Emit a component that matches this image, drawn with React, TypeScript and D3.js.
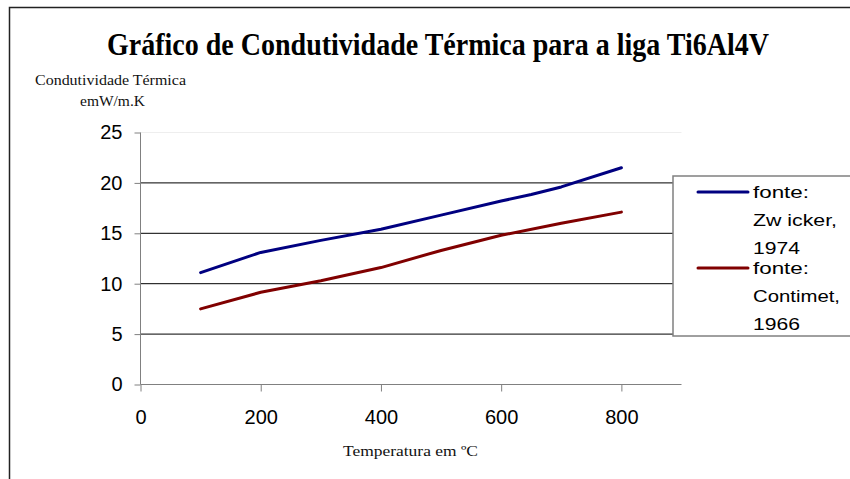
import React, { useEffect, useRef } from "react";
import * as d3 from "d3";

// temperatures (ºC) and thermal conductivity (W/m.K)
const zwickerTemp = [100, 200, 300, 400, 500, 600, 650, 700, 800];
const zwickerK = [11.1, 13.1, 14.3, 15.4, 16.8, 18.2, 18.85, 19.6, 21.5];
const contimetTemp = [100, 200, 300, 400, 500, 600, 700, 800];
const contimetK = [7.5, 9.15, 10.3, 11.6, 13.3, 14.8, 16.0, 17.1];

const xTicks = [0, 200, 400, 600, 800];
const yTicks = [0, 5, 10, 15, 20, 25];

const series = [
  { lines: ["fonte:", "Zw icker,", "1974"], widths: [56, 84, 47], color: "#000080", xs: zwickerTemp, ys: zwickerK },
  { lines: ["fonte:", "Contimet,", "1966"], widths: [56, 87, 47], color: "#800000", xs: contimetTemp, ys: contimetK },
];

export default function App() {
  const svgRef = useRef<SVGSVGElement>(null);

  useEffect(() => {
    const svg = d3.select(svgRef.current);
    svg.selectAll("*").remove();

    const x = d3.scaleLinear().domain([0, 900]).range([140.5, 681.5]);
    const y = d3.scaleLinear().domain([0, 25]).range([384.5, 132.5]);

    // outer chart frame
    svg.append("path").attr("d", "M9.5,479V7.5H850").attr("fill", "none").attr("stroke", "#222").attr("stroke-width", 1.5);

    // title
    svg
      .append("text")
      .attr("x", 438)
      .attr("y", 55)
      .attr("text-anchor", "middle")
      .attr("font-family", "Liberation Serif, serif")
      .attr("font-weight", "bold")
      .attr("font-size", 31)
      .attr("textLength", 662)
      .attr("lengthAdjust", "spacingAndGlyphs")
      .text("Gráfico de Condutividade Térmica para a liga Ti6Al4V");

    // y label
    const yl = svg
      .append("g")
      .attr("font-family", "Liberation Serif, serif")
      .attr("font-size", 14)
      .attr("fill", "#111");
    yl.append("text")
      .attr("x", 35)
      .attr("y", 85)
      .attr("textLength", 151)
      .attr("lengthAdjust", "spacingAndGlyphs")
      .text("Condutividade Térmica");
    yl.append("text")
      .attr("x", 80)
      .attr("y", 106)
      .attr("textLength", 65)
      .attr("lengthAdjust", "spacingAndGlyphs")
      .text("emW/m.K");

    // x label
    svg
      .append("text")
      .attr("x", 343)
      .attr("y", 456)
      .attr("textLength", 135)
      .attr("lengthAdjust", "spacingAndGlyphs")
      .attr("font-family", "Liberation Serif, serif")
      .attr("font-size", 14)
      .attr("fill", "#111")
      .text("Temperatura em ºC");

    // plot top edge (faint)
    svg.append("line").attr("x1", x(0)).attr("x2", x(900)).attr("y1", y(25)).attr("y2", y(25)).attr("stroke", "#eee");

    // gridlines
    svg
      .append("g")
      .selectAll("line")
      .data(yTicks.filter((t) => t > 0 && t < 25))
      .join("line")
      .attr("x1", x(0))
      .attr("x2", x(900))
      .attr("y1", (d) => y(d))
      .attr("y2", (d) => y(d))
      .attr("stroke", "#000")
      .attr("stroke-width", 1);

    // y axis
    const yAxis = svg
      .append("g")
      .attr("transform", `translate(${x(0)},0)`)
      .call(d3.axisLeft(y).tickValues(yTicks).tickSize(6).tickPadding(12).tickSizeOuter(0));
    yAxis.select(".domain").attr("stroke", "#808080").attr("d", `M0,${y(0)}V${y(25)}`);
    yAxis.selectAll(".tick line").attr("stroke", "#808080");
    yAxis
      .selectAll(".tick text")
      .attr("font-family", "Liberation Sans, Arial, sans-serif")
      .attr("font-size", 20)
      .attr("fill", "#000");

    // x axis
    const xAxis = svg
      .append("g")
      .attr("transform", `translate(0,${y(0)})`)
      .call(d3.axisBottom(x).tickValues(xTicks).tickSize(7).tickPadding(18).tickSizeOuter(0));
    xAxis.select(".domain").attr("stroke", "#808080").attr("d", `M${x(0)},0H${x(900)}`);
    xAxis.selectAll(".tick line").attr("stroke", "#808080");
    xAxis
      .selectAll(".tick text")
      .attr("font-family", "Liberation Sans, Arial, sans-serif")
      .attr("font-size", 20)
      .attr("fill", "#000");

    // lines
    const line = d3
      .line<[number, number]>()
      .x((d) => x(d[0]))
      .y((d) => y(d[1]));
    series.forEach((s) => {
      svg
        .append("path")
        .datum(s.xs.map((t, i) => [t, s.ys[i]] as [number, number]))
        .attr("fill", "none")
        .attr("stroke", s.color)
        .attr("stroke-width", 3)
        .attr("stroke-linecap", "round")
        .attr("stroke-linejoin", "round")
        .attr("d", line);
    });

    // legend
    const lg = svg.append("g");
    lg.append("rect")
      .attr("x", 673)
      .attr("y", 176)
      .attr("width", 200)
      .attr("height", 160)
      .attr("fill", "#fff")
      .attr("stroke", "#808080")
      .attr("stroke-width", 1.5);
    const rowY = [192, 268];
    series.forEach((s, i) => {
      lg.append("line")
        .attr("x1", 698)
        .attr("x2", 748)
        .attr("y1", rowY[i])
        .attr("y2", rowY[i])
        .attr("stroke", s.color)
        .attr("stroke-width", 3)
        .attr("stroke-linecap", "round");
      s.lines.forEach((t, j) => {
        lg.append("text")
          .attr("x", 753)
          .attr("y", rowY[i] + 6 + j * 28)
          .attr("font-family", "Liberation Sans, Arial, sans-serif")
          .attr("font-size", 17)
          .attr("textLength", s.widths[j])
          .attr("lengthAdjust", "spacingAndGlyphs")
          .attr("fill", "#000")
          .text(t);
      });
    });
  }, []);

  return (
    <div style={{ position: "absolute", left: 0, top: 0 }}>
      <svg ref={svgRef} width={850} height={479} style={{ display: "block", background: "#fff" }} />
    </div>
  );
}
